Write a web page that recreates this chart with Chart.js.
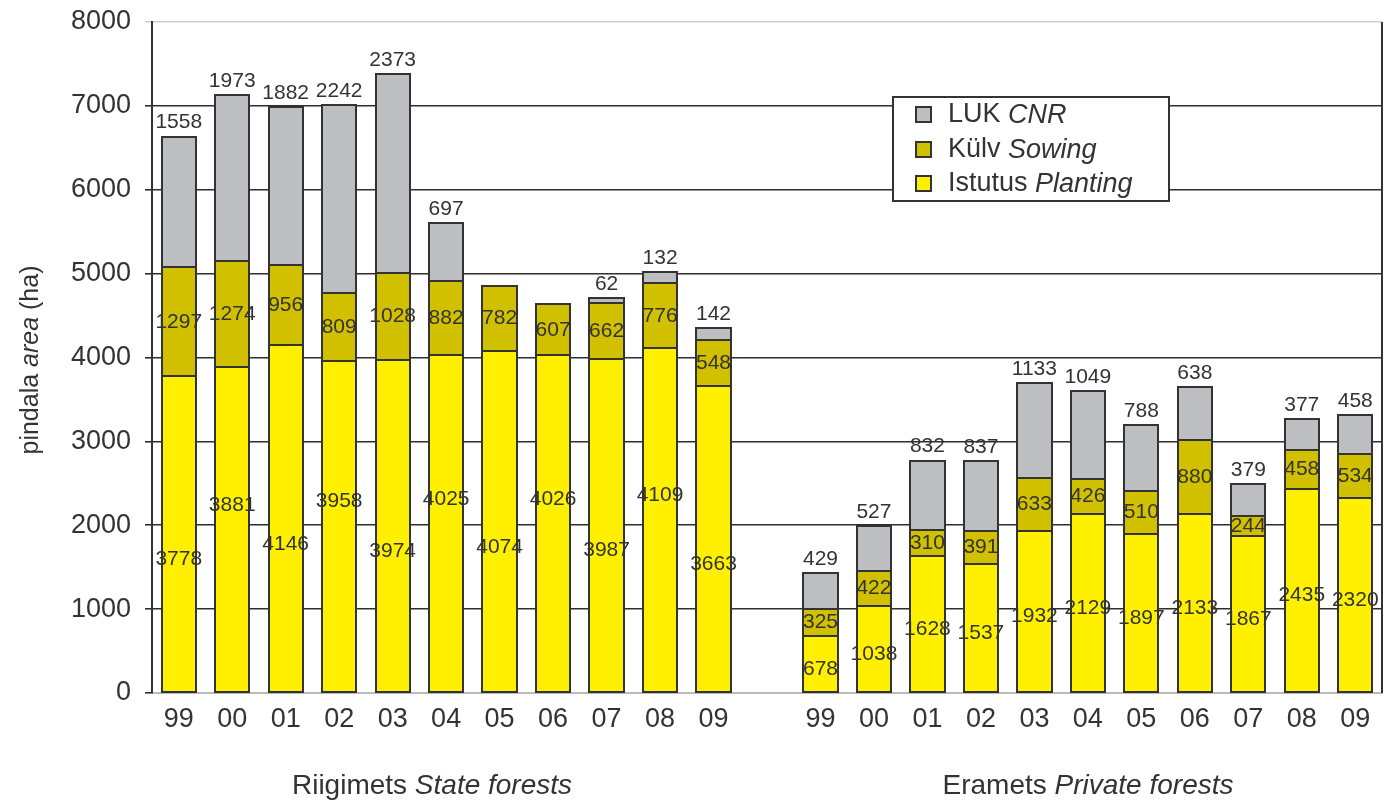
<!DOCTYPE html>
<html lang="et">
<head>
  <meta charset="UTF-8">
  <title>Metsauuendus - Forest regeneration</title>
  <script src="https://cdn.jsdelivr.net/npm/chart.js"></script>
  <style>
    body {
      margin: 0;
      background: #fff;
      font-family: Arial, "Liberation Sans", sans-serif;
    }
    #myChart {
      display: block;
    }
  </style>
</head>
<body>
  <canvas id="myChart" width="1384" height="803"></canvas>

  <script>
    // years for both groups
    const years = ['99', '00', '01', '02', '03', '04', '05', '06', '07', '08', '09'];

    // Riigimets / State forests (ha)
    const statePlanting = [3778, 3881, 4146, 3958, 3974, 4025, 4074, 4026, 3987, 4109, 3663];
    const stateSowing = [1297, 1274, 956, 809, 1028, 882, 782, 607, 662, 776, 548];
    const stateCnr = [1558, 1973, 1882, 2242, 2373, 697, null, null, 62, 132, 142];

    // Eramets / Private forests (ha)
    const privatePlanting = [678, 1038, 1628, 1537, 1932, 2129, 1897, 2133, 1867, 2435, 2320];
    const privateSowing = [325, 422, 310, 391, 633, 426, 510, 880, 244, 458, 534];
    const privateCnr = [429, 527, 832, 837, 1133, 1049, 788, 638, 379, 377, 458];

    const yTicks = [0, 1000, 2000, 3000, 4000, 5000, 6000, 7000, 8000];

    // one empty category between the two groups
    const labels = [...years, '', ...years];
    const joinGroups = (a, b) => [...a, null, ...b];

    const FONT = 'Arial, "Liberation Sans", sans-serif';
    const TEXT = '#333';
    const EDGE = '#333';

    const chartData = {
      labels: labels,
      datasets: [
        {
          label: 'Istutus Planting',
          data: joinGroups(statePlanting, privatePlanting),
          backgroundColor: '#FFF000'
        },
        {
          label: 'Külv Sowing',
          data: joinGroups(stateSowing, privateSowing),
          backgroundColor: '#D0C000'
        },
        {
          label: 'LUK CNR',
          data: joinGroups(stateCnr, privateCnr),
          backgroundColor: '#BDBEC2'
        }
      ]
    };

    chartData.datasets.forEach(ds => {
      ds.borderWidth = 0;
      ds.barPercentage = 0.64;
      ds.categoryPercentage = 1;
      ds.stack = 'one';
    });

    // outlines of the segments + numbers on them
    const valueLabels = {
      id: 'valueLabels',
      afterDatasetsDraw(chart) {
        const ctx = chart.ctx;
        ctx.save();

        ctx.strokeStyle = EDGE;
        ctx.lineWidth = 2;
        chart.data.datasets.forEach((ds, di) => {
          chart.getDatasetMeta(di).data.forEach((bar, i) => {
            if (ds.data[i] == null) return;
            const x0 = Math.round(bar.x - bar.width / 2);
            const x1 = Math.round(bar.x + bar.width / 2);
            const y0 = Math.round(bar.y);
            const y1 = Math.round(bar.base);
            ctx.strokeRect(x0, y0, x1 - x0, y1 - y0);
          });
        });

        ctx.font = '21px ' + FONT;
        ctx.fillStyle = TEXT;
        ctx.textAlign = 'center';
        ctx.textBaseline = 'middle';
        chart.data.datasets.forEach((ds, di) => {
          chart.getDatasetMeta(di).data.forEach((bar, i) => {
            const v = ds.data[i];
            if (v == null) return;
            let y = (bar.y + bar.base) / 2;
            if (di === 2) {
              y = bar.y - 14;
            } else if (di === 0) {
              // state labels are staggered, private ones sit a bit low
              if (i < years.length) y += (i % 2 === 0) ? 25 : -25;
              else y += 5;
            }
            ctx.fillText(String(v), bar.x, y);
          });
        });
        ctx.restore();
      }
    };

    // draw text made of plain / italic pieces
    function drawRuns(ctx, runs, x, y, size) {
      let total = 0;
      runs.forEach(r => {
        ctx.font = (r.italic ? 'italic ' : '') + size + 'px ' + FONT;
        r.w = ctx.measureText(r.text).width;
        total += r.w;
      });
      let cx = x - total / 2;
      runs.forEach(r => {
        ctx.font = (r.italic ? 'italic ' : '') + size + 'px ' + FONT;
        ctx.fillText(r.text, cx, y);
        cx += r.w;
      });
    }

    const extras = {
      id: 'extras',
      afterDraw(chart) {
        const ctx = chart.ctx;
        const area = chart.chartArea;
        ctx.save();

        // right frame line
        ctx.strokeStyle = EDGE;
        ctx.lineWidth = 2;
        ctx.beginPath();
        ctx.moveTo(area.right, area.top);
        ctx.lineTo(area.right, area.bottom);
        ctx.stroke();

        ctx.fillStyle = TEXT;
        ctx.textAlign = 'left';
        ctx.textBaseline = 'middle';

        // group titles
        drawRuns(ctx, [{ text: 'Riigimets ' }, { text: 'State forests', italic: true }], 432, 786, 28);
        drawRuns(ctx, [{ text: 'Eramets ' }, { text: 'Private forests', italic: true }], 1088, 786, 28);

        // y axis title
        ctx.save();
        ctx.translate(31, 360);
        ctx.rotate(-Math.PI / 2);
        drawRuns(ctx, [{ text: 'pindala ' }, { text: 'area', italic: true }, { text: ' (ha)' }], 0, 0, 25);
        ctx.restore();

        // legend
        const lx = 893, ly = 97, lw = 276, lh = 104;
        ctx.fillStyle = '#fff';
        ctx.fillRect(lx, ly, lw, lh);
        ctx.strokeStyle = EDGE;
        ctx.lineWidth = 2;
        ctx.strokeRect(lx, ly, lw, lh);

        const items = [
          { ds: 2, a: 'LUK ', b: 'CNR' },
          { ds: 1, a: 'Külv ', b: 'Sowing' },
          { ds: 0, a: 'Istutus ', b: 'Planting' }
        ];
        items.forEach((it, k) => {
          const cy = Math.round(ly + 17 + k * 34.5);
          ctx.fillStyle = chart.data.datasets[it.ds].backgroundColor;
          ctx.fillRect(lx + 23, cy - 7, 15, 15);
          ctx.strokeStyle = EDGE;
          ctx.lineWidth = 2;
          ctx.strokeRect(lx + 23, cy - 7, 15, 15);
          ctx.fillStyle = TEXT;
          ctx.font = '27px ' + FONT;
          ctx.fillText(it.a, lx + 55, cy + 1);
          const w = ctx.measureText(it.a).width;
          ctx.font = 'italic 27px ' + FONT;
          ctx.fillText(it.b, lx + 55 + w, cy + 1);
        });

        ctx.restore();
      }
    };

    const chartConfig = {
      type: 'bar',
      data: chartData,
      plugins: [valueLabels, extras],
      options: {
        responsive: false,
        animation: false,
        layout: {
          padding: { left: 0, top: 22, right: 2, bottom: 0 }
        },
        plugins: {
          legend: { display: false },
          tooltip: { enabled: false }
        },
        scales: {
          x: {
            stacked: true,
            grid: { display: false, drawTicks: false },
            border: { display: true, color: '#bbb', width: 2 },
            ticks: {
              color: TEXT,
              font: { size: 27, family: FONT },
              padding: 10,
              maxRotation: 0,
              autoSkip: false
            },
            afterFit(scale) {
              scale.height = 110;
            }
          },
          y: {
            stacked: true,
            min: 0,
            max: 8000,
            afterBuildTicks(scale) {
              scale.ticks = yTicks.map(v => ({ value: v }));
            },
            grid: {
              color: ctx => (ctx.tick && ctx.tick.value === 8000) ? '#cfcfcf' : '#2e2e2e',
              lineWidth: 1.6,
              tickLength: 7,
              drawTicks: true
            },
            border: { display: true, color: EDGE, width: 2 },
            ticks: {
              color: TEXT,
              font: { size: 27, family: FONT },
              padding: 14,
              callback: v => String(v)
            },
            afterFit(scale) {
              scale.width = 152;
              scale.paddingTop = 0;
              scale.paddingBottom = 0;
            }
          }
        }
      }
    };

    const ctx = document.getElementById('myChart').getContext('2d');
    const myChart = new Chart(ctx, chartConfig);
  </script>
</body>
</html>
